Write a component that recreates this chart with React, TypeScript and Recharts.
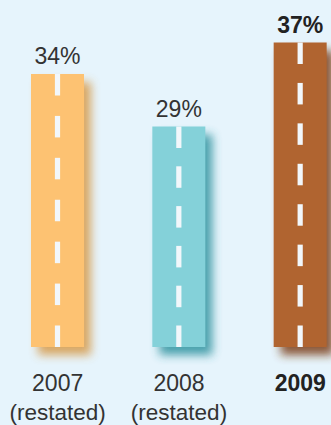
import React from "react";
import { BarChart, Bar, XAxis, YAxis, Cell } from "recharts";

const categories = ["2007", "2008", "2009"];
const subLabels = ["(restated)", "(restated)", ""];
const values = [34, 29, 37];

const BAR_COLORS = ["#fdc272", "#84d1d9", "#b06430"];
const SHADOW_COLORS = ["#d69a4a", "#2f939f", "#7a3c14"];
const BG = "#e6f4fc";
const FONT = "'Liberation Sans', Arial, Helvetica, sans-serif";

const data = categories.map((c, i) => ({ name: c, sub: subLabels[i], value: values[i] }));

const RoadBar = (props: any) => {
  const { x, y, width, height, index, payload } = props;
  if (!(height > 0)) return null;
  const cx = x + width / 2;
  const dash = 21.5;
  const gap = 19.5;
  const n = Math.max(1, Math.round((height + gap) / (dash + gap)));
  const period = n > 1 ? (height - dash) / (n - 1) : 0;
  const dashes = [];
  for (let k = 0; k < n; k++) {
    dashes.push(
      <rect key={k} x={cx - 2.6} y={y + k * period} width={5.2} height={dash} fill="#f2f7fb" />
    );
  }
  const fid = `shadow-${index}`;
  return (
    <g>
      <defs>
        <filter id={fid} x="-50%" y="-50%" width="200%" height="200%">
          <feGaussianBlur stdDeviation={5} />
        </filter>
      </defs>
      <rect
        x={x + 7}
        y={y + 8}
        width={width}
        height={height}
        fill={SHADOW_COLORS[index]}
        opacity={0.85}
        filter={`url(#${fid})`}
      />
      <rect x={x} y={y} width={width} height={height} fill={BAR_COLORS[index]} />
      {dashes}
      <text
        x={cx}
        y={y - 10}
        textAnchor="middle"
        fontFamily={FONT}
        fontSize={23}
        fontWeight={index === 2 ? 700 : 400}
        fill={index === 2 ? "#222" : "#333"}
      >
        {`${payload.value}%`}
      </text>
    </g>
  );
};

const CatTick = (props: any) => {
  const { x, y, payload, index } = props;
  const i = payload && payload.index !== undefined ? payload.index : index;
  const bold = i === 2;
  return (
    <g>
      <text
        x={x}
        y={y + 44}
        textAnchor="middle"
        fontFamily={FONT}
        fontSize={23}
        fontWeight={bold ? 700 : 400}
        fill={bold ? "#222" : "#333"}
      >
        {payload.value}
      </text>
      {subLabels[i] ? (
        <text
          x={x}
          y={y + 72.5}
          textAnchor="middle"
          fontFamily={FONT}
          fontSize={22.5}
          fill="#333"
        >
          {subLabels[i]}
        </text>
      ) : null}
    </g>
  );
};

export default function App() {
  return (
    <div
      style={{
        position: "fixed",
        left: 0,
        top: 0,
        width: 331,
        height: 425,
        overflow: "hidden",
        background: BG,
      }}
    >
      <div style={{ position: "absolute", left: -3, top: 0 }}>
        <BarChart
          width={364}
          height={425}
          data={data}
          margin={{ top: 11, right: 0, bottom: 0, left: 0 }}
          barCategoryGap={0}
        >
          <XAxis
            dataKey="name"
            height={78}
            axisLine={false}
            tickLine={false}
            tickSize={0}
            tickMargin={0}
            interval={0}
            tick={<CatTick />}
          />
          <YAxis hide domain={[8, 40]} />
          <Bar dataKey="value" barSize={53} isAnimationActive={false} shape={<RoadBar />}>
            {data.map((d, i) => (
              <Cell key={d.name} fill={BAR_COLORS[i]} />
            ))}
          </Bar>
        </BarChart>
      </div>
    </div>
  );
}
